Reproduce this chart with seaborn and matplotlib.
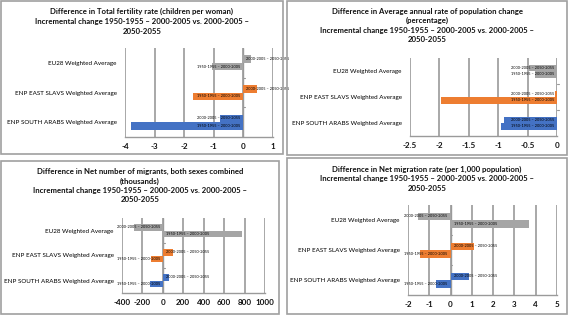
import pandas as pd
import matplotlib.pyplot as plt
import matplotlib.patches as mpatches
import seaborn as sns

sns.set_style('white')
plt.rcParams['font.family'] = ['Lato', 'DejaVu Sans']

# 데이터
regions = ['EU28 Weighted Average', 'ENP EAST SLAVS Weighted Average', 'ENP SOUTH ARABS Weighted Average']
periods = ['2000-2005 \u2013 2050-2055', '1950-1955 \u2013 2000-2005']
region_colors = ['#A5A5A5', '#ED7D31', '#4472C4']

titles = [
    'Difference in Total fertility rate (children per woman)\nIncremental change 1950-1955 \u2013 2000-2005 vs. 2000-2005 \u2013\n2050-2055',
    'Difference in Average annual rate of population change\n(percentage)\nIncremental change 1950-1955 \u2013 2000-2005 vs. 2000-2005 \u2013\n2050-2055',
    'Difference in Net number of migrants, both sexes combined\n(thousands)\nIncremental change 1950-1955 \u2013 2000-2005 vs. 2000-2005 \u2013\n2050-2055',
    'Difference in Net migration rate (per 1,000 population)\nIncremental change 1950-1955 \u2013 2000-2005 vs. 2000-2005 \u2013\n2050-2055',
]

fertility_late = [0.25, 0.45, -0.8]
fertility_early = [-1.05, -1.7, -3.8]
growth_late = [-0.47, -0.03, -0.9]
growth_early = [-0.37, -1.97, -0.96]
migrants_late = [-285, 95, 65]
migrants_early = [772, -115, -125]
migrate_late = [-1.55, 1.1, 0.86]
migrate_early = [3.68, -1.42, -0.69]

xticks = [
    [-4, -3, -2, -1, 0, 1],
    [-2.5, -2, -1.5, -1, -0.5, 0],
    [-400, -200, 0, 200, 400, 600, 800, 1000],
    [-2, -1, 0, 1, 2, 3, 4, 5],
]
xticklabels = [
    ['-4', '-3', '-2', '-1', '0', '1'],
    ['-2.5', '-2', '-1.5', '-1', '-0.5', '0'],
    ['-400', '-200', '0', '200', '400', '600', '800', '1000'],
    ['-2', '-1', '0', '1', '2', '3', '4', '5'],
]
series = [
    (fertility_late, fertility_early),
    (growth_late, growth_early),
    (migrants_late, migrants_early),
    (migrate_late, migrate_early),
]

W, H = 568, 315
fig = plt.figure(figsize=(W / 100, H / 100), dpi=100)

# 패널 테두리 (px: x0, y0, x1, y1)
boxes = [(1, 1, 283, 154), (287, 1, 567, 155), (1, 161, 279, 314), (287, 158, 567, 314)]
for x0, y0, x1, y1 in boxes:
    fig.patches.append(mpatches.Rectangle((x0 / W, 1 - y1 / H), (x1 - x0) / W, (y1 - y0) / H,
                                          transform=fig.transFigure, fill=False,
                                          edgecolor='#A0A0A0', linewidth=1.2))

# 축 위치 (px: left, top, right, bottom) 와 제목 위치
axes_px = [(125, 48, 273, 137), (410, 58, 557, 136), (122, 218, 265, 293), (408, 205, 557, 295)]
title_top = [8, 8, 168, 166]
title_ls = [1.47, 1.37, 1.37, 1.37]

for i in range(4):
    l, t, r, b = axes_px[i]
    ax = fig.add_axes([l / W, 1 - b / H, (r - l) / W, (b - t) / H])
    late, early = series[i]
    df = pd.DataFrame({
        'region': regions * 2,
        'period': [periods[0]] * 3 + [periods[1]] * 3,
        'value': late + early,
    })
    sns.barplot(data=df, y='region', x='value', hue='period', hue_order=periods,
                order=regions, orient='h', width=0.5, ax=ax, legend=False,
                palette=['#888888', '#888888'])

    # 지역별 색상
    for cont in ax.containers:
        for j, bar in enumerate(cont):
            bar.set_facecolor(region_colors[j])
            bar.set_edgecolor('none')

    # 막대 라벨 (기준선 쪽)
    span = xticks[i][-1] - xticks[i][0]
    for k, cont in enumerate(ax.containers):
        for j, bar in enumerate(cont):
            v = bar.get_width()
            yc = bar.get_y() + bar.get_height() / 2
            if v < 0:
                ax.text(-0.02 * span, yc, periods[k], ha='right', va='center', fontsize=2.8, color='black')
            else:
                ax.text(0.02 * span, yc, periods[k], ha='left', va='center', fontsize=2.8, color='black')

    ax.set_xlim(xticks[i][0], xticks[i][-1])
    ax.set_ylim(2.5, -0.5)
    ax.set_xticks(xticks[i])
    ax.set_xticklabels(xticklabels[i], fontsize=5.8, fontweight='bold', color='#111111')
    ax.tick_params(axis='x', length=0, pad=4)
    ax.tick_params(axis='y', length=0, pad=6, labelsize=4.5, labelcolor='black')
    ax.set_xlabel('')
    ax.set_ylabel('')
    ax.grid(True, axis='x', color='#9A9A9A', linewidth=1.2)
    ax.set_axisbelow(True)
    for s in ['top', 'right', 'left']:
        ax.spines[s].set_visible(False)
    ax.spines['bottom'].set_color('#9A9A9A')
    ax.spines['bottom'].set_linewidth(1.0)
    ax.axvline(0, color='#9A9A9A', linewidth=1.0, zorder=0)
    for yb in [0.5, 1.5]:
        ax.plot([0, 0.012 * span], [yb, yb], color='#9A9A9A', linewidth=0.8, clip_on=False)

    x0, y0, x1, y1 = boxes[i]
    fig.text(((x0 + x1) / 2) / W, 1 - title_top[i] / H, titles[i], ha='center', va='top',
             fontsize=5.6, fontweight='bold', linespacing=title_ls[i], color='#111111')

plt.savefig('out.png', dpi=100)
